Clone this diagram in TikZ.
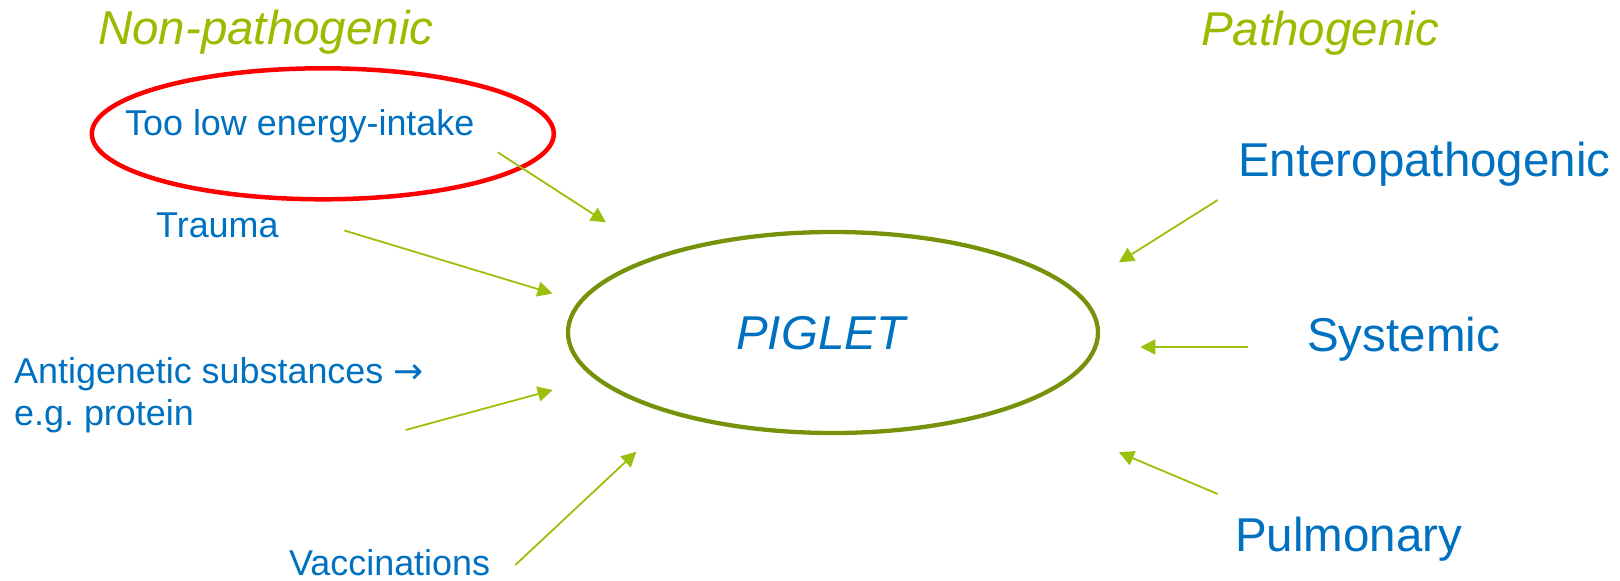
\documentclass[tikz,border=0pt]{standalone}
\usepackage{fontspec}
\setmainfont{Liberation Sans}
\newfontfamily\arrowfont{DejaVu Sans}
\usetikzlibrary{shapes.geometric,arrows.meta}
\definecolor{txtblue}{RGB}{0,112,192}
\definecolor{headgreen}{RGB}{153,187,0}
\definecolor{arrowgreen}{RGB}{155,192,12}
\definecolor{ringolive}{RGB}{118,146,10}
\definecolor{ringred}{RGB}{255,0,0}
\begin{document}
\frenchspacing
\begin{tikzpicture}[x=1pt,y=-1pt,
  lbl/.style={inner sep=0pt, anchor=base west, text=txtblue,
    font=\fontsize{35.9}{42.4}\selectfont},
  big/.style={inner sep=0pt, anchor=base west, text=txtblue,
    font=\fontsize{47.5}{57}\selectfont},
  head/.style={inner sep=0pt, anchor=base west, text=headgreen,
    font=\fontsize{47.5}{57}\selectfont\itshape},
  ring/.style={ellipse, draw, inner sep=0pt},
  feed/.style={draw=arrowgreen, line width=1.8pt,
    -{Triangle[length=15pt,width=15pt]}}
]
\useasboundingbox (0,0) rectangle (1620,581);

% column headings
\node[head] (nonpath) at (98,44) {Non-pathogenic};
\node[head] (path) at (1201,45) {Pathogenic};

% central piglet
\node[ring, draw=ringolive, line width=4.3pt,
  minimum width=530pt, minimum height=201pt] (pigring) at (833,332.5) {};
\node[big, font=\fontsize{47.5}{57}\selectfont\itshape] (piglet) at (736,349.3) {PIGLET};

% non-pathogenic causes
\node[ring, draw=ringred, line width=4.5pt,
  minimum width=462pt, minimum height=131pt] (mark) at (322.8,133.8) {};
\node[lbl] (energy) at (125,135) {Too low energy-intake};
\node[lbl] (trauma) at (156,237) {Trauma};
\node[lbl, align=left] (anti) at (14,425.7) {Antigenetic substances {\arrowfont →}\\e.g. protein};
\node[lbl] (vacc) at (289,575) {Vaccinations};

% pathogenic causes
\node[big] (entero) at (1238,176.7) {Enteropathogenic};
\node[big] (syst) at (1307,351) {Systemic};
\node[big] (pulm) at (1235,551) {Pulmonary};

% arrow ends
\coordinate (e1) at (497.7,152.3);  \coordinate (t1) at (606,222.3);
\coordinate (e2) at (344.4,230.5);  \coordinate (t2) at (552.5,293.5);
\coordinate (e3) at (405.5,430);    \coordinate (t3) at (552.7,390);
\coordinate (e4) at (515.3,565);    \coordinate (t4) at (636.4,451.7);
\coordinate (e5) at (1217.7,200);   \coordinate (t5) at (1118.9,262.3);
\coordinate (e6) at (1248,347);     \coordinate (t6) at (1140.3,347);
\coordinate (e7) at (1217.7,494);   \coordinate (t7) at (1118.9,452.3);

\draw[feed] (e1) -- (t1);
\draw[feed] (e2) -- (t2);
\draw[feed] (e3) -- (t3);
\draw[feed] (e4) -- (t4);
\draw[feed] (e5) -- (t5);
\draw[feed] (e6) -- (t6);
\draw[feed] (e7) -- (t7);
\end{tikzpicture}
\end{document}
